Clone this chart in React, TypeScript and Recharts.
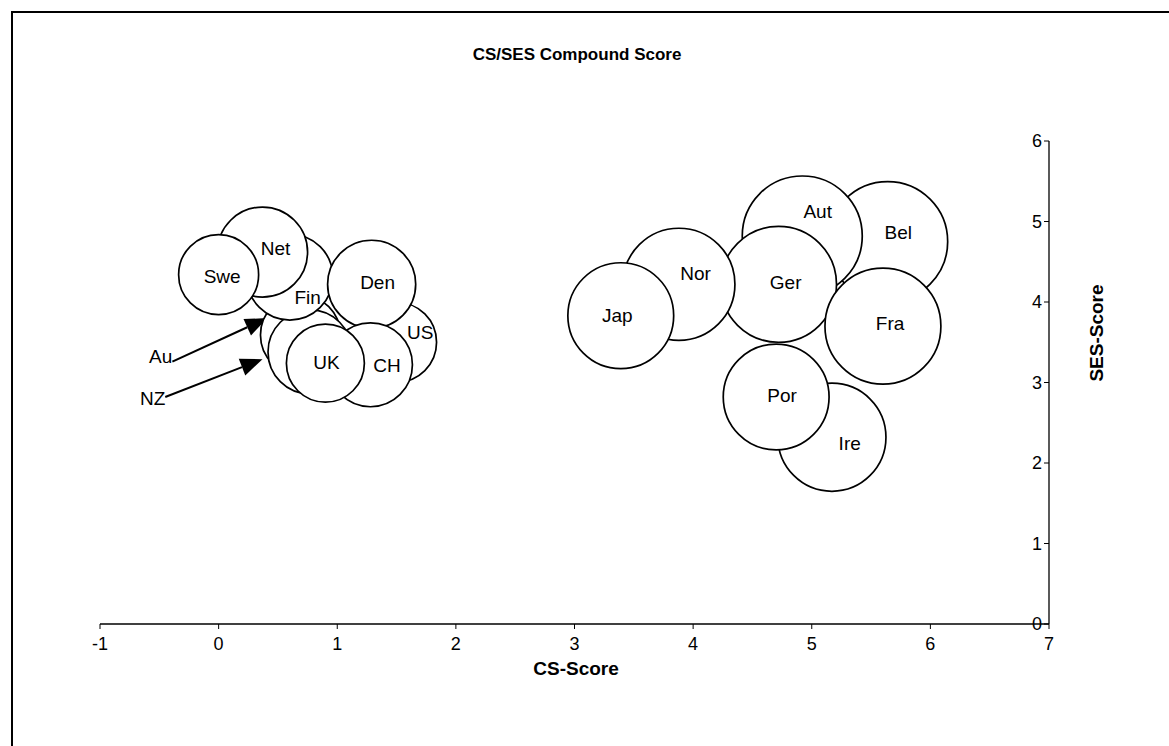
import React from 'react';
import { ScatterChart, Scatter, XAxis, YAxis, ZAxis, LabelList, ReferenceLine, ReferenceDot } from 'recharts';

const FONT = '"Liberation Sans", Arial, sans-serif';

// drawn back to front (later bubbles cover earlier ones)
const countries = ['Au', 'US', 'NZ', 'Fin', 'Net', 'Swe', 'Den', 'CH', 'UK', 'Bel', 'Aut', 'Ger', 'Nor', 'Jap', 'Fra', 'Ire', 'Por'];
const csScore = [0.69, 1.5, 0.77, 0.6, 0.37, 0.0, 1.29, 1.28, 0.9, 5.64, 4.92, 4.72, 3.88, 3.39, 5.6, 5.17, 4.7];
const sesScore = [3.59, 3.5, 3.38, 4.31, 4.62, 4.34, 4.22, 3.22, 3.24, 4.75, 4.82, 4.22, 4.22, 3.83, 3.7, 2.32, 2.82];
const bubbleSize = [16, 16, 17.6, 18.5, 20.3, 16, 19.4, 17.6, 15.2, 36, 36, 33.6, 31.4, 28, 33.6, 29.2, 28];

// data labels, where they sit in the chart (data units)
const labelNames = ['Swe', 'Net', 'Fin', 'Den', 'US', 'UK', 'CH', 'Jap', 'Nor', 'Ger', 'Aut', 'Bel', 'Fra', 'Por', 'Ire'];
const labelX = [0.03, 0.48, 0.75, 1.34, 1.7, 0.91, 1.42, 3.36, 4.02, 4.78, 5.05, 5.73, 5.66, 4.75, 5.32];
const labelY = [4.32, 4.67, 4.06, 4.25, 3.63, 3.25, 3.22, 3.84, 4.36, 4.24, 5.13, 4.87, 3.74, 2.84, 2.25];

const xTicks = [-1, 0, 1, 2, 3, 4, 5, 6, 7];
const yTicks = [0, 1, 2, 3, 4, 5, 6];

// arrow annotations pointing at the hidden bubbles
const arrowNames = ['Au', 'NZ'];
const arrowFromX = [-0.39, -0.45];
const arrowFromY = [3.26, 2.82];
const arrowToX = [0.41, 0.37];
const arrowToY = [3.8, 3.29];
const arrowTextX = [-0.39, -0.45];
const arrowTextY = [3.32, 2.81];

const bubbles = countries.map((name, i) => ({ name, x: csScore[i], y: sesScore[i], z: bubbleSize[i] }));
const labelPoints = labelNames.map((name, i) => ({ name, x: labelX[i], y: labelY[i] }));

const Bubble = (props: any) => {
  const { cx, cy, size, width } = props;
  const r = width ? width / 2 : Math.sqrt(size / Math.PI);
  return <circle cx={cx} cy={cy} r={r} fill="#fff" stroke="#000" strokeWidth={1.7} />;
};

const NoMark = () => <g />;

const Arrow = (props: any) => {
  const { x1, y1, x2, y2 } = props;
  const a = Math.atan2(y2 - y1, x2 - x1);
  const len = 22;
  const half = 9;
  const bx = x2 - len * Math.cos(a);
  const by = y2 - len * Math.sin(a);
  const pts = `${x2},${y2} ${bx - half * Math.sin(a)},${by + half * Math.cos(a)} ${bx + half * Math.sin(a)},${by - half * Math.cos(a)}`;
  return (
    <g>
      <line x1={x1} y1={y1} x2={bx} y2={by} stroke="#000" strokeWidth={2} />
      <polygon points={pts} fill="#000" />
    </g>
  );
};

export default function App() {
  return (
    <div style={{ position: 'absolute', left: 0, top: 0, width: 1169, height: 746, background: '#fff', overflow: 'hidden', fontFamily: FONT }}>
      <div style={{ position: 'absolute', left: 11, top: 11, width: 1300, height: 900, borderLeft: '2px solid #000', borderTop: '2px solid #000' }} />
      <ScatterChart width={1169} height={746} margin={{ top: 141, right: 120, bottom: 62, left: 100 }} style={{ position: 'absolute', left: 0, top: 0 }}>
        <XAxis
          type="number"
          dataKey="x"
          domain={[-1, 7]}
          ticks={xTicks}
          interval={0}
          height={60}
          tickSize={5}
          tickMargin={8}
          axisLine={{ stroke: '#000', strokeWidth: 1.3 }}
          tickLine={{ stroke: '#000' }}
          tick={{ fill: '#000', fontSize: 18, fontFamily: FONT }}
        />
        <YAxis
          type="number"
          dataKey="y"
          orientation="right"
          mirror
          domain={[0, 6]}
          ticks={yTicks}
          interval={0}
          width={60}
          tickSize={5}
          tickMargin={2}
          axisLine={{ stroke: '#000', strokeWidth: 1.3 }}
          tickLine={{ stroke: '#000' }}
          tick={{ fill: '#000', fontSize: 18, fontFamily: FONT }}
        />
        <ZAxis type="number" dataKey="z" domain={[0, 40]} range={[0, Math.PI * 4000]} />
        <Scatter data={bubbles} shape={<Bubble />} isAnimationActive={false} />
        <Scatter data={labelPoints} shape={<NoMark />} isAnimationActive={false}>
          <LabelList dataKey="name" position="center" fill="#000" fontSize={19} fontFamily={FONT} />
        </Scatter>
        {arrowNames.map((n, i) => (
          <ReferenceLine
            key={'l' + n}
            segment={[{ x: arrowFromX[i], y: arrowFromY[i] }, { x: arrowToX[i], y: arrowToY[i] }]}
            shape={<Arrow />}
            ifOverflow="visible"
          />
        ))}
        {arrowNames.map((n, i) => (
          <ReferenceDot
            key={'d' + n}
            x={arrowTextX[i]}
            y={arrowTextY[i]}
            r={0}
            fill="none"
            stroke="none"
            ifOverflow="visible"
            label={{ value: n, position: 'left', offset: 0, fill: '#000', fontSize: 19, fontFamily: FONT }}
          />
        ))}
      </ScatterChart>
      <div style={{ position: 'absolute', left: 577, top: 55, transform: 'translate(-50%, -50%)', fontWeight: 'bold', fontSize: 17, whiteSpace: 'nowrap' }}>
        CS/SES Compound Score
      </div>
      <div style={{ position: 'absolute', left: 576, top: 669, transform: 'translate(-50%, -50%)', fontWeight: 'bold', fontSize: 19, whiteSpace: 'nowrap' }}>
        CS-Score
      </div>
      <div style={{ position: 'absolute', left: 1097, top: 333, transform: 'translate(-50%, -50%) rotate(-90deg)', fontWeight: 'bold', fontSize: 19, whiteSpace: 'nowrap' }}>
        SES-Score
      </div>
    </div>
  );
}
